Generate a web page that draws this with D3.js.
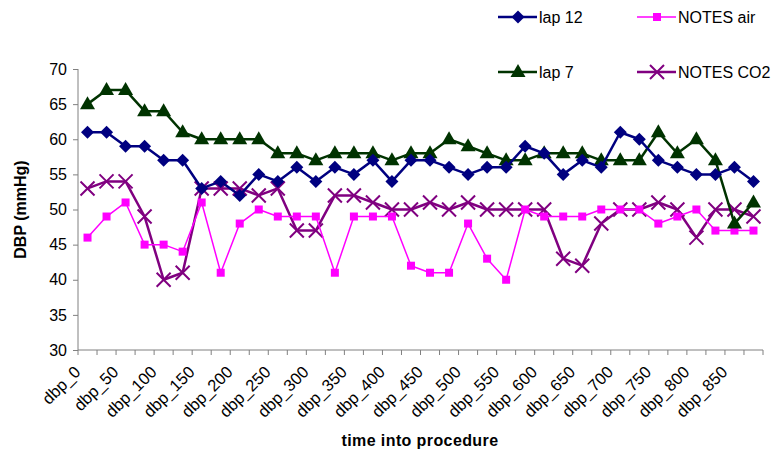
<!DOCTYPE html>
<html>
<head>
<meta charset="utf-8">
<script src="https://cdn.jsdelivr.net/npm/d3@7"></script>
<style>
  html, body { margin: 0; padding: 0; background: #fff; }
  svg { display: block; font-family: Arial, "Liberation Sans", sans-serif; }
</style>
</head>
<body>
<svg id="chart" width="780" height="458"></svg>
<script>
// Time points into the procedure (every 25 units)
const categories = d3.range(0, 900, 25).map(t => "dbp_" + t);

const lap12    = [61,61,59,59,57,57,53,54,52,55,54,56,54,56,55,57,54,57,57,56,55,56,56,59,58,55,57,56,61,60,57,56,55,55,56,54];
const lap7     = [65,67,67,64,64,61,60,60,60,60,58,58,57,58,58,58,57,58,58,60,59,58,57,57,58,58,58,57,57,57,61,58,60,57,48,51];
const notesAir = [46,49,51,45,45,44,51,41,48,50,49,49,49,41,49,49,49,42,41,41,48,43,40,50,49,49,49,50,50,50,48,49,50,47,47,47];
const notesCO2 = [53,54,54,49,40,41,53,53,53,52,53,47,47,52,52,51,50,50,51,50,51,50,50,50,50,43,42,48,50,50,51,50,46,50,50,49];

const yTicks = [30, 35, 40, 45, 50, 55, 60, 65, 70];

const seriesNames = ["lap 12", "lap 7", "NOTES air", "NOTES CO2"];
const seriesValues = [lap12, lap7, notesAir, notesCO2];

const styles = {
  "lap 12":    { color: "#000080", width: 2.5, marker: "diamond" },
  "lap 7":     { color: "#003300", width: 2.5, marker: "triangle" },
  "NOTES air": { color: "#ff00ff", width: 1.5, marker: "square" },
  "NOTES CO2": { color: "#800080", width: 2.5, marker: "cross" }
};

const svg = d3.select("#chart");
const margin = { left: 78, right: 17, top: 69, bottom: 108 };
const W = 780, H = 458;

const x = d3.scaleBand()
  .domain(categories)
  .range([margin.left, W - margin.right])
  .paddingInner(0).paddingOuter(0);

const y = d3.scaleLinear()
  .domain([30, 70])
  .range([H - margin.bottom, margin.top]);

const cx = c => x(c) + x.bandwidth() / 2;

// Y axis
const yAxis = svg.append("g")
  .attr("transform", `translate(${margin.left},0)`)
  .call(d3.axisLeft(y).tickValues(yTicks).tickSize(5).tickPadding(6).tickFormat(d3.format("d")));
yAxis.selectAll("path, line").attr("stroke", "#808080");
yAxis.select(".domain").attr("d", `M0,${y(70)}V${y(30)}`);
yAxis.selectAll("text").attr("font-size", 16).attr("fill", "#000")
  .style("font-family", "Arial, 'Liberation Sans', sans-serif");

// X axis: ticks on band boundaries, labels on every other category
const xBase = y(30);
const xg = svg.append("g");
xg.append("line")
  .attr("x1", margin.left).attr("x2", W - margin.right)
  .attr("y1", xBase).attr("y2", xBase)
  .attr("stroke", "#808080").attr("stroke-width", 1);
const boundaries = categories.map(c => x(c)).concat([x(categories[categories.length - 1]) + x.bandwidth()]);
xg.selectAll("line.tick").data(boundaries).join("line")
  .attr("class", "tick")
  .attr("x1", d => d).attr("x2", d => d)
  .attr("y1", xBase).attr("y2", xBase + 5)
  .attr("stroke", "#808080");
xg.selectAll("text.lbl").data(categories.filter((c, i) => i % 2 === 0)).join("text")
  .attr("class", "lbl")
  .attr("transform", d => `translate(${cx(d) - 6},${xBase + 23}) rotate(-45)`)
  .attr("text-anchor", "end")
  .attr("font-size", 16.5)
  .attr("fill", "#000")
  .text(d => d);

// Axis titles
svg.append("text")
  .attr("x", 420).attr("y", 446)
  .attr("text-anchor", "middle")
  .attr("font-size", 16).attr("font-weight", "bold")
  .attr("letter-spacing", 0.4)
  .text("time into procedure");

svg.append("text")
  .attr("transform", `translate(26,${(y(30) + y(70)) / 2}) rotate(-90)`)
  .attr("text-anchor", "middle")
  .attr("font-size", 16).attr("font-weight", "bold")
  .text("DBP (mmHg)");

// Marker drawing
function drawMarker(g, kind, color, px, py) {
  if (kind === "diamond") {
    g.append("path").attr("d", `M${px},${py - 6.5}L${px + 6.5},${py}L${px},${py + 6.5}L${px - 6.5},${py}Z`)
      .attr("fill", color);
  } else if (kind === "triangle") {
    g.append("path").attr("d", `M${px},${py - 8}L${px + 7.5},${py + 5}L${px - 7.5},${py + 5}Z`)
      .attr("fill", color);
  } else if (kind === "square") {
    g.append("rect").attr("x", px - 4).attr("y", py - 4).attr("width", 8).attr("height", 8)
      .attr("fill", color);
  } else if (kind === "cross") {
    g.append("path").attr("d", `M${px - 7},${py - 7}L${px + 7},${py + 7}M${px - 7},${py + 7}L${px + 7},${py - 7}`)
      .attr("stroke", color).attr("stroke-width", 2).attr("fill", "none");
  }
}

const line = d3.line().x((d, i) => cx(categories[i])).y(d => y(d));

// Series: draw in back-to-front order
const order = ["NOTES CO2", "NOTES air", "lap 7", "lap 12"];
order.forEach(name => {
  const vals = seriesValues[seriesNames.indexOf(name)];
  const st = styles[name];
  const g = svg.append("g");
  g.append("path").datum(vals)
    .attr("d", line)
    .attr("fill", "none")
    .attr("stroke", st.color)
    .attr("stroke-width", st.width)
    .attr("stroke-linejoin", "round");
  vals.forEach((v, i) => drawMarker(g, st.marker, st.color, cx(categories[i]), y(v)));
});

// Legend
const legendPos = {
  "lap 12":    [498, 17],
  "NOTES air": [637, 17],
  "lap 7":     [498, 72],
  "NOTES CO2": [637, 72]
};
seriesNames.forEach(name => {
  const st = styles[name];
  const [lx, ly] = legendPos[name];
  const g = svg.append("g");
  g.append("line").attr("x1", lx).attr("x2", lx + 39).attr("y1", ly).attr("y2", ly)
    .attr("stroke", st.color).attr("stroke-width", st.width);
  drawMarker(g, st.marker, st.color, lx + 20, ly);
  g.append("text").attr("x", lx + 41).attr("y", ly + 6)
    .attr("font-size", 16).attr("fill", "#000").text(name);
});
</script>
</body>
</html>
